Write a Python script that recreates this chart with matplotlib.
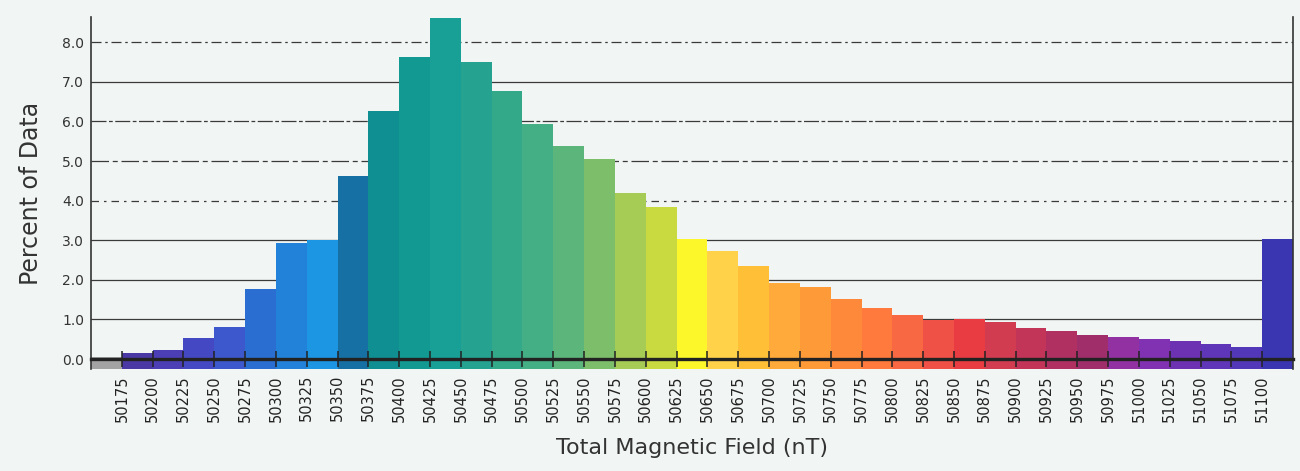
import matplotlib.pyplot as plt
import numpy as np

# bin edges (nT) and percent of data per 25 nT bin
bin_start = np.arange(50150, 51125, 25)
percent = [0.05, 0.15, 0.22, 0.52, 0.82, 1.78, 2.93, 3.00, 4.63, 6.26,
           7.64, 8.62, 7.50, 6.78, 5.94, 5.39, 5.06, 4.19, 3.85, 3.03,
           2.73, 2.36, 1.92, 1.82, 1.52, 1.28, 1.11, 0.98, 1.01, 0.94,
           0.79, 0.71, 0.60, 0.56, 0.51, 0.45, 0.39, 0.30, 3.04]
tick_values = np.arange(50175, 51125, 25)
y_ticks = [0, 1, 2, 3, 4, 5, 6, 7, 8]

bin_colors = ['#a3a3a3', '#4a38a4', '#4c3fb6', '#4448c2', '#3c58cc', '#2a6ed2',
              '#2282da', '#1c95e2', '#1670a4', '#0f8f92', '#129a92', '#18a097',
              '#25a290', '#33a98a', '#44ae84', '#5cb57a', '#7dbe6a', '#a6cc55',
              '#c9da40', '#fbf72a', '#ffd24a', '#ffc038', '#ffaa3a', '#ff9a38',
              '#ff893a', '#ff7a3c', '#f86842', '#f05146', '#e83c42', '#d23c50',
              '#c23458', '#b03062', '#a02e6a', '#9232a2', '#8032b2', '#6c32b2',
              '#6036b8', '#5238b8', '#3a36b2']

BG = '#f1f5f4'
BOTTOM = -0.25

fig = plt.figure(figsize=(13, 4.71), dpi=100, facecolor=BG)
ax = fig.add_axes([0.07, 0.2166, 0.9246, 0.7474])
ax.set_facecolor(BG)
ax.set_axisbelow(False)  # tick marks on top of the bars

# grid lines (printed look: some solid, some broken)
grid_styles = {1: '-', 2: '-', 3: '-', 7: '-',
               4: (0, (6, 4, 2, 4)), 5: (0, (14, 3, 4, 3)),
               6: (0, (12, 2, 3, 2)), 8: (0, (8, 3, 2, 3))}
for lvl, ls in grid_styles.items():
    ax.axhline(lvl, color='#3a3a3a', lw=0.9, ls=ls, zorder=1)

heights = np.array(percent) - BOTTOM
ax.bar(bin_start, heights, width=25, bottom=BOTTOM, align='edge',
       color=bin_colors, edgecolor='none', zorder=2)

ax.set_xlim(50150, 51125)
ax.set_ylim(BOTTOM, 8.64)

ax.spines['top'].set_visible(False)
ax.spines['bottom'].set_position(('data', 0))
ax.spines['bottom'].set_linewidth(2.4)
ax.spines['bottom'].set_color('#222222')
for s in ['left', 'right']:
    ax.spines[s].set_linewidth(1.2)
    ax.spines[s].set_color('#333333')

ax.set_xticks(tick_values)
ax.set_xticklabels([str(v) for v in tick_values], rotation=90, fontsize=10.5,
                   color='#222222')
ax.tick_params(axis='x', direction='inout', length=11, width=1.1, pad=6,
               color='#222222')

ax.set_yticks(y_ticks)
ax.set_yticklabels(['%.1f' % v for v in y_ticks], fontsize=10, color='#333333')
ax.tick_params(axis='y', length=0, pad=5)

ax.set_ylabel('Percent of Data', fontsize=17, color='#333333', labelpad=14)
ax.set_xlabel('Total Magnetic Field (nT)', fontsize=16, color='#333333',
              labelpad=12)

fig.savefig('out.png', dpi=100, facecolor=BG)
